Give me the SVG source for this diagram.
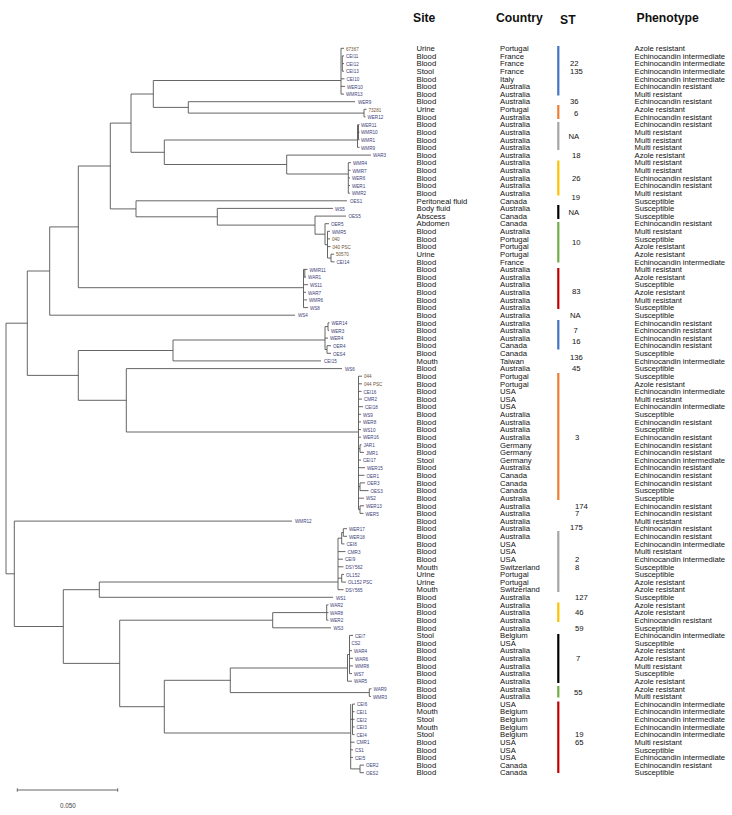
<svg xmlns="http://www.w3.org/2000/svg" width="732" height="815" viewBox="0 0 732 815">
<style>
.t{font-family:"Liberation Sans",Arial,sans-serif;font-size:7.7px;fill:#111}
.h{font-family:"Liberation Sans",Arial,sans-serif;font-size:12.2px;font-weight:bold;fill:#111}
.lf{font-family:"Liberation Sans",Arial,sans-serif;font-size:6.2px;fill:#3c3c78}
.ln{fill:#6e5434}
.br{fill:none;stroke:#555;stroke-width:0.9}
.sb{stroke-width:2.2}
.sc{font-family:"Liberation Sans",Arial,sans-serif;font-size:6.3px;fill:#444}
</style>
<rect width="732" height="815" fill="#fff"/>
<g id="headers">
<text class="h" x="413" y="21.5">Site</text>
<text class="h" x="496" y="21.5">Country</text>
<text class="h" x="560" y="24">ST</text>
<text class="h" x="636.5" y="21.5">Phenotype</text>
</g>
<g id="branches" class="br">
<path d="M6 323.2V573.8M6 323.2H27.3M6 573.8H14.3"/>
<path d="M27.3 271V375.4M27.3 271H49.7M27.3 375.4H78.3"/>
<path d="M49.7 226.9V315.2M49.7 226.9H78.3M49.7 315.2H295"/>
<path d="M78.3 166V287.7M78.3 166H110.3M78.3 287.7H303.5"/>
<path d="M110.3 123.1V208.9M110.3 123.1H131M110.3 208.9H136"/>
<path d="M131 94V152.3M131 94H153.3M131 152.3H164.3"/>
<path d="M153.3 80.5V107.4M153.3 80.5H341M153.3 107.4H188.3"/>
<path d="M188.3 101.7V113.1M188.3 101.7H355M188.3 113.1H364"/>
<path d="M364 109.3V116.9M364 109.3H366.5M364 116.9H365.5"/>
<path d="M341 48.3V94.1M341 48.3H344M341 78.8H344.5M341 86.4H345M341 94.1H344M342.3 55.9V71.2M342.3 55.9H344M342.3 63.6H344M342.3 71.2H344"/>
<path d="M164.3 140V164.5M164.3 140H357.5M164.3 164.5H286.7"/>
<path d="M357.5 124.6V147.4M358.5 124.6V139.8M358.5 124.6H359.5M358.5 132.2H359.5M358.5 139.8H359.5M357.5 147.4H359.5M357.5 132.2H358.5"/>
<path d="M286.7 155.1V174M286.7 155.1H371M286.7 174H348.3"/>
<path d="M348.3 162.7V193.2M348.3 162.7H351M348.3 170.3H350.5M348.3 177.9H350M348.3 185.6H350M348.3 193.2H350"/>
<path d="M136 200.8V216.8M136 200.8H347M136 216.8H217.3"/>
<path d="M217.3 208.4V225.1M217.3 208.4H333M217.3 225.1H315"/>
<path d="M315 216.1V234.2M315 216.1H346M315 234.2H325"/>
<path d="M325 223.7V244.7M325 223.7H329M325 244.7H327.5M327.5 231.3V258M327.5 231.3H330M327.5 238.9H330M327.5 246.6H330.5M327.5 258H331M331 254.2V261.8M331 254.2H334M331 261.8H334.5"/>
<path d="M303.5 269.4V307.6M303.5 269.4H307.5M303.5 277.1H306M303.5 284.7H308M303.5 292.3H306M303.5 299.9H307M303.5 307.6H308M304.8 269.4V277.1"/>
<path d="M78.3 350.5V400.3M78.3 350.5H173M78.3 400.3H126.3"/>
<path d="M173 340V360.9M173 340H325M173 360.9H321"/>
<path d="M325 326.6V349.5M325 326.6H328M328 322.8V330.4M328 322.8H329.5M328 330.4H329M325 338.1H328M325 349.5H327M327 345.7V353.3M327 345.7H331M327 353.3H331"/>
<path d="M126.3 368.6V432M126.3 368.6H342M126.3 432H358.5"/>
<path d="M358.5 376.2V509.6M358.5 376.2H362M358.5 383.8H362M358.5 391.4H361.5M358.5 399.1H362M358.5 406.7H363M358.5 414.3H361M358.5 421.9H361M358.5 429.6H361M358.5 437.2H361M358.5 448.6H360M360 444.8V452.4M360 444.8H361.5M360 452.4H364M358.5 460.1H361M358.5 467.7H365M358.5 475.3H364.5M358.5 486.7H360M360 482.9V490.6M360 482.9H365M360 490.6H368.5M358.5 498.2H364M358.5 509.6H360M360 505.8V513.4M360 505.8H364M360 513.4H363.5"/>
<path d="M14.3 521.1V626.5M14.3 521.1H292M14.3 626.5H63.3"/>
<path d="M63.3 589.7V663.4M63.3 589.7H99.3M63.3 663.4H119.7"/>
<path d="M99.3 582V597.3M99.3 582H338M99.3 597.3H333"/>
<path d="M338 538.2V589.7M338 538.2H341.7M341.7 532.5V543.9M341.7 532.5H343.3M343.3 528.7V536.3M343.3 528.7H347M343.3 536.3H347M341.7 543.9H344.5M338 551.6H345.5M338 559.2H343M338 566.8H343.5M338 578.2H341.7M341.7 574.4V582.1M341.7 574.4H344M341.7 582.1H346M338 589.7H343.5"/>
<path d="M119.7 620.2V706.7M119.7 620.2H272.7M119.7 706.7H164.3"/>
<path d="M272.7 612.6V627.8M272.7 612.6H326.7M272.7 627.8H331"/>
<path d="M326.7 604.9V620.2M326.7 604.9H328.5M326.7 612.6H328.5M326.7 620.2H328.5"/>
<path d="M164.3 680.3V733M164.3 680.3H230.3M164.3 733H350.7"/>
<path d="M230.3 668V692.6M230.3 668H347.5M230.3 692.6H369.3"/>
<path d="M347.5 654.5V681.2M349.5 635.4V673.6M347.5 654.5H349.5M349.5 635.4H353M349.5 643.1H350M349.5 650.7H352M349.5 658.3H353M349.5 665.9H353M349.5 673.6H352M347.5 681.2H352"/>
<path d="M369.3 688.8V696.4M369.3 688.8H371.5M369.3 696.4H371"/>
<path d="M350.7 704.1V768.9M352.5 704.1V734.6M350.7 719.3H352.5M352.5 704.1H355M352.5 711.7H354.5M352.5 719.3H354.5M352.5 726.9H354.5M352.5 734.6H354.5M350.7 742.2H354.5M350.7 749.8H353M350.7 757.4H353M350.7 768.9H360M360 765.1V772.7M360 765.1H364M360 772.7H364"/>
</g>
<g id="st-bars" class="sb">
<line x1="558.3" y1="46" x2="558.3" y2="95.5" stroke="#4472C4"/>
<line x1="558.3" y1="105" x2="558.3" y2="119" stroke="#ED7D31"/>
<line x1="558.3" y1="122" x2="558.3" y2="150" stroke="#A5A5A5"/>
<line x1="558.3" y1="160.5" x2="558.3" y2="195.5" stroke="#FFC000"/>
<line x1="558.3" y1="205" x2="558.3" y2="219" stroke="#000"/>
<line x1="558.3" y1="222" x2="558.3" y2="262.5" stroke="#70AD47"/>
<line x1="558.3" y1="268" x2="558.3" y2="309" stroke="#C00000"/>
<line x1="558.3" y1="320" x2="558.3" y2="349.5" stroke="#4472C4"/>
<line x1="558.3" y1="373" x2="558.3" y2="500" stroke="#ED7D31"/>
<line x1="558.3" y1="531" x2="558.3" y2="592" stroke="#A5A5A5"/>
<line x1="558.3" y1="602.5" x2="558.3" y2="622" stroke="#FFC000"/>
<line x1="558.3" y1="634" x2="558.3" y2="683" stroke="#000"/>
<line x1="558.3" y1="686" x2="558.3" y2="697.5" stroke="#70AD47"/>
<line x1="558.3" y1="701.5" x2="558.3" y2="773" stroke="#C00000"/>
</g>
<g id="st-labels" class="t">
<text x="570" y="66.3">22</text>
<text x="570" y="73.9">135</text>
<text x="570" y="104.4">36</text>
<text x="574" y="115.7">6</text>
<text x="568.5" y="138.7">NA</text>
<text x="572" y="157.8">18</text>
<text x="572" y="180.6">26</text>
<text x="571.5" y="200.2">19</text>
<text x="568.5" y="214.7">NA</text>
<text x="572" y="245.2">10</text>
<text x="572" y="293.7">83</text>
<text x="570" y="317.9">NA</text>
<text x="573.5" y="333.1">7</text>
<text x="572" y="344.2">16</text>
<text x="570" y="359.7">136</text>
<text x="572" y="371.2">45</text>
<text x="575" y="439.9">3</text>
<text x="575" y="508.5">174</text>
<text x="575" y="516.1">7</text>
<text x="570" y="529.7">175</text>
<text x="575" y="561.7">2</text>
<text x="575" y="569.7">8</text>
<text x="575" y="600">127</text>
<text x="575" y="615.2">46</text>
<text x="575" y="630.5">59</text>
<text x="576" y="661">7</text>
<text x="574" y="695.2">55</text>
<text x="575" y="737.2">19</text>
<text x="575" y="744.9">65</text>
</g>
<g id="r1"><text class="lf ln" transform="translate(346 50.5) scale(.74 1)">67367</text><text class="t" x="416.5" y="51">Urine</text><text class="t" x="500" y="51">Portugal</text><text class="t" x="634.5" y="51">Azole resistant</text></g>
<g id="r2"><text class="lf" transform="translate(346 58.1) scale(.74 1)">CEI11</text><text class="t" x="416.5" y="58.6">Blood</text><text class="t" x="500" y="58.6">France</text><text class="t" x="634.5" y="58.6">Echinocandin intermediate</text></g>
<g id="r3"><text class="lf" transform="translate(346 65.8) scale(.74 1)">CEI12</text><text class="t" x="416.5" y="66.3">Blood</text><text class="t" x="500" y="66.3">France</text><text class="t" x="634.5" y="66.3">Echinocandin intermediate</text></g>
<g id="r4"><text class="lf" transform="translate(346 73.4) scale(.74 1)">CEI13</text><text class="t" x="416.5" y="73.9">Stool</text><text class="t" x="500" y="73.9">France</text><text class="t" x="634.5" y="73.9">Echinocandin intermediate</text></g>
<g id="r5"><text class="lf" transform="translate(346.5 81) scale(.74 1)">CEI10</text><text class="t" x="416.5" y="81.5">Blood</text><text class="t" x="500" y="81.5">Italy</text><text class="t" x="634.5" y="81.5">Echinocandin intermediate</text></g>
<g id="r6"><text class="lf" transform="translate(347 88.6) scale(.74 1)">WER10</text><text class="t" x="416.5" y="89.1">Blood</text><text class="t" x="500" y="89.1">Australia</text><text class="t" x="634.5" y="89.1">Echinocandin resistant</text></g>
<g id="r7"><text class="lf" transform="translate(346 96.3) scale(.74 1)">WMR13</text><text class="t" x="416.5" y="96.8">Blood</text><text class="t" x="500" y="96.8">Australia</text><text class="t" x="634.5" y="96.8">Multi resistant</text></g>
<g id="r8"><text class="lf" transform="translate(358 103.9) scale(.74 1)">WER9</text><text class="t" x="416.5" y="104.4">Blood</text><text class="t" x="500" y="104.4">Australia</text><text class="t" x="634.5" y="104.4">Echinocandin resistant</text></g>
<g id="r9"><text class="lf ln" transform="translate(368.5 111.5) scale(.74 1)">73281</text><text class="t" x="416.5" y="112">Urine</text><text class="t" x="500" y="112">Portugal</text><text class="t" x="634.5" y="112">Azole resistant</text></g>
<g id="r10"><text class="lf" transform="translate(367.5 119.1) scale(.74 1)">WER12</text><text class="t" x="416.5" y="119.6">Blood</text><text class="t" x="500" y="119.6">Australia</text><text class="t" x="634.5" y="119.6">Echinocandin resistant</text></g>
<g id="r11"><text class="lf" transform="translate(361 126.8) scale(.74 1)">WER11</text><text class="t" x="416.5" y="127.3">Blood</text><text class="t" x="500" y="127.3">Australia</text><text class="t" x="634.5" y="127.3">Echinocandin resistant</text></g>
<g id="r12"><text class="lf" transform="translate(361 134.4) scale(.74 1)">WMR10</text><text class="t" x="416.5" y="134.9">Blood</text><text class="t" x="500" y="134.9">Australia</text><text class="t" x="634.5" y="134.9">Multi resistant</text></g>
<g id="r13"><text class="lf" transform="translate(361 142) scale(.74 1)">WMR1</text><text class="t" x="416.5" y="142.5">Blood</text><text class="t" x="500" y="142.5">Australia</text><text class="t" x="634.5" y="142.5">Multi resistant</text></g>
<g id="r14"><text class="lf" transform="translate(361 149.6) scale(.74 1)">WMR9</text><text class="t" x="416.5" y="150.1">Blood</text><text class="t" x="500" y="150.1">Australia</text><text class="t" x="634.5" y="150.1">Multi resistant</text></g>
<g id="r15"><text class="lf" transform="translate(373 157.3) scale(.74 1)">WAR3</text><text class="t" x="416.5" y="157.8">Blood</text><text class="t" x="500" y="157.8">Australia</text><text class="t" x="634.5" y="157.8">Azole resistant</text></g>
<g id="r16"><text class="lf" transform="translate(353 164.9) scale(.74 1)">WMR4</text><text class="t" x="416.5" y="165.4">Blood</text><text class="t" x="500" y="165.4">Australia</text><text class="t" x="634.5" y="165.4">Multi resistant</text></g>
<g id="r17"><text class="lf" transform="translate(352.5 172.5) scale(.74 1)">WMR7</text><text class="t" x="416.5" y="173">Blood</text><text class="t" x="500" y="173">Australia</text><text class="t" x="634.5" y="173">Multi resistant</text></g>
<g id="r18"><text class="lf" transform="translate(352 180.1) scale(.74 1)">WER6</text><text class="t" x="416.5" y="180.6">Blood</text><text class="t" x="500" y="180.6">Australia</text><text class="t" x="634.5" y="180.6">Echinocandin resistant</text></g>
<g id="r19"><text class="lf" transform="translate(352 187.8) scale(.74 1)">WER1</text><text class="t" x="416.5" y="188.3">Blood</text><text class="t" x="500" y="188.3">Australia</text><text class="t" x="634.5" y="188.3">Echinocandin resistant</text></g>
<g id="r20"><text class="lf" transform="translate(352 195.4) scale(.74 1)">WMR2</text><text class="t" x="416.5" y="195.9">Blood</text><text class="t" x="500" y="195.9">Australia</text><text class="t" x="634.5" y="195.9">Multi resistant</text></g>
<g id="r21"><text class="lf" transform="translate(350 203) scale(.74 1)">OES1</text><text class="t" x="416.5" y="203.5">Peritoneal fluid</text><text class="t" x="500" y="203.5">Canada</text><text class="t" x="634.5" y="203.5">Susceptible</text></g>
<g id="r22"><text class="lf" transform="translate(335 210.6) scale(.74 1)">WS5</text><text class="t" x="416.5" y="211.1">Body fluid</text><text class="t" x="500" y="211.1">Australia</text><text class="t" x="634.5" y="211.1">Susceptible</text></g>
<g id="r23"><text class="lf" transform="translate(348.5 218.3) scale(.74 1)">OES5</text><text class="t" x="416.5" y="218.8">Abscess</text><text class="t" x="500" y="218.8">Canada</text><text class="t" x="634.5" y="218.8">Susceptible</text></g>
<g id="r24"><text class="lf" transform="translate(331 225.9) scale(.74 1)">OER5</text><text class="t" x="416.5" y="226.4">Abdomen</text><text class="t" x="500" y="226.4">Canada</text><text class="t" x="634.5" y="226.4">Echinocandin resistant</text></g>
<g id="r25"><text class="lf" transform="translate(332 233.5) scale(.74 1)">WMR5</text><text class="t" x="416.5" y="234">Blood</text><text class="t" x="500" y="234">Australia</text><text class="t" x="634.5" y="234">Multi resistant</text></g>
<g id="r26"><text class="lf ln" transform="translate(332 241.1) scale(.74 1)">040</text><text class="t" x="416.5" y="241.6">Blood</text><text class="t" x="500" y="241.6">Portugal</text><text class="t" x="634.5" y="241.6">Susceptible</text></g>
<g id="r27"><text class="lf ln" transform="translate(332.5 248.8) scale(.74 1)">040 PSC</text><text class="t" x="416.5" y="249.3">Blood</text><text class="t" x="500" y="249.3">Portugal</text><text class="t" x="634.5" y="249.3">Azole resistant</text></g>
<g id="r28"><text class="lf ln" transform="translate(336 256.4) scale(.74 1)">50570</text><text class="t" x="416.5" y="256.9">Urine</text><text class="t" x="500" y="256.9">Portugal</text><text class="t" x="634.5" y="256.9">Azole resistant</text></g>
<g id="r29"><text class="lf" transform="translate(336.5 264) scale(.74 1)">CEI14</text><text class="t" x="416.5" y="264.5">Blood</text><text class="t" x="500" y="264.5">France</text><text class="t" x="634.5" y="264.5">Echinocandin intermediate</text></g>
<g id="r30"><text class="lf" transform="translate(309.5 271.6) scale(.74 1)">WMR11</text><text class="t" x="416.5" y="272.1">Blood</text><text class="t" x="500" y="272.1">Australia</text><text class="t" x="634.5" y="272.1">Multi resistant</text></g>
<g id="r31"><text class="lf" transform="translate(308 279.3) scale(.74 1)">WAR1</text><text class="t" x="416.5" y="279.8">Blood</text><text class="t" x="500" y="279.8">Australia</text><text class="t" x="634.5" y="279.8">Azole resistant</text></g>
<g id="r32"><text class="lf" transform="translate(310 286.9) scale(.74 1)">WS11</text><text class="t" x="416.5" y="287.4">Blood</text><text class="t" x="500" y="287.4">Australia</text><text class="t" x="634.5" y="287.4">Susceptible</text></g>
<g id="r33"><text class="lf" transform="translate(308 294.5) scale(.74 1)">WAR7</text><text class="t" x="416.5" y="295">Blood</text><text class="t" x="500" y="295">Australia</text><text class="t" x="634.5" y="295">Azole resistant</text></g>
<g id="r34"><text class="lf" transform="translate(309 302.1) scale(.74 1)">WMR6</text><text class="t" x="416.5" y="302.6">Blood</text><text class="t" x="500" y="302.6">Australia</text><text class="t" x="634.5" y="302.6">Multi resistant</text></g>
<g id="r35"><text class="lf" transform="translate(310 309.8) scale(.74 1)">WS8</text><text class="t" x="416.5" y="310.3">Blood</text><text class="t" x="500" y="310.3">Australia</text><text class="t" x="634.5" y="310.3">Susceptible</text></g>
<g id="r36"><text class="lf" transform="translate(298 317.4) scale(.74 1)">WS4</text><text class="t" x="416.5" y="317.9">Blood</text><text class="t" x="500" y="317.9">Australia</text><text class="t" x="634.5" y="317.9">Susceptible</text></g>
<g id="r37"><text class="lf" transform="translate(331.5 325) scale(.74 1)">WER14</text><text class="t" x="416.5" y="325.5">Blood</text><text class="t" x="500" y="325.5">Australia</text><text class="t" x="634.5" y="325.5">Echinocandin resistant</text></g>
<g id="r38"><text class="lf" transform="translate(331 332.6) scale(.74 1)">WER3</text><text class="t" x="416.5" y="333.1">Blood</text><text class="t" x="500" y="333.1">Australia</text><text class="t" x="634.5" y="333.1">Echinocandin resistant</text></g>
<g id="r39"><text class="lf" transform="translate(330 340.3) scale(.74 1)">WER4</text><text class="t" x="416.5" y="340.8">Blood</text><text class="t" x="500" y="340.8">Australia</text><text class="t" x="634.5" y="340.8">Echinocandin resistant</text></g>
<g id="r40"><text class="lf" transform="translate(333 347.9) scale(.74 1)">OER4</text><text class="t" x="416.5" y="348.4">Blood</text><text class="t" x="500" y="348.4">Canada</text><text class="t" x="634.5" y="348.4">Echinocandin resistant</text></g>
<g id="r41"><text class="lf" transform="translate(333 355.5) scale(.74 1)">OES4</text><text class="t" x="416.5" y="356">Blood</text><text class="t" x="500" y="356">Canada</text><text class="t" x="634.5" y="356">Susceptible</text></g>
<g id="r42"><text class="lf" transform="translate(324 363.1) scale(.74 1)">CEI15</text><text class="t" x="416.5" y="363.6">Mouth</text><text class="t" x="500" y="363.6">Taiwan</text><text class="t" x="634.5" y="363.6">Echinocandin intermediate</text></g>
<g id="r43"><text class="lf" transform="translate(345 370.8) scale(.74 1)">WS6</text><text class="t" x="416.5" y="371.3">Blood</text><text class="t" x="500" y="371.3">Australia</text><text class="t" x="634.5" y="371.3">Susceptible</text></g>
<g id="r44"><text class="lf ln" transform="translate(364 378.4) scale(.74 1)">044</text><text class="t" x="416.5" y="378.9">Blood</text><text class="t" x="500" y="378.9">Portugal</text><text class="t" x="634.5" y="378.9">Susceptible</text></g>
<g id="r45"><text class="lf ln" transform="translate(364 386) scale(.74 1)">044 PSC</text><text class="t" x="416.5" y="386.5">Blood</text><text class="t" x="500" y="386.5">Portugal</text><text class="t" x="634.5" y="386.5">Azole resistant</text></g>
<g id="r46"><text class="lf" transform="translate(363.5 393.6) scale(.74 1)">CEI16</text><text class="t" x="416.5" y="394.1">Blood</text><text class="t" x="500" y="394.1">USA</text><text class="t" x="634.5" y="394.1">Echinocandin intermediate</text></g>
<g id="r47"><text class="lf" transform="translate(364 401.3) scale(.74 1)">CMR2</text><text class="t" x="416.5" y="401.8">Blood</text><text class="t" x="500" y="401.8">USA</text><text class="t" x="634.5" y="401.8">Multi resistant</text></g>
<g id="r48"><text class="lf" transform="translate(365 408.9) scale(.74 1)">CEI18</text><text class="t" x="416.5" y="409.4">Blood</text><text class="t" x="500" y="409.4">USA</text><text class="t" x="634.5" y="409.4">Echinocandin intermediate</text></g>
<g id="r49"><text class="lf" transform="translate(363 416.5) scale(.74 1)">WS9</text><text class="t" x="416.5" y="417">Blood</text><text class="t" x="500" y="417">Australia</text><text class="t" x="634.5" y="417">Susceptible</text></g>
<g id="r50"><text class="lf" transform="translate(363 424.1) scale(.74 1)">WER8</text><text class="t" x="416.5" y="424.6">Blood</text><text class="t" x="500" y="424.6">Australia</text><text class="t" x="634.5" y="424.6">Echinocandin resistant</text></g>
<g id="r51"><text class="lf" transform="translate(363 431.8) scale(.74 1)">WS10</text><text class="t" x="416.5" y="432.3">Blood</text><text class="t" x="500" y="432.3">Australia</text><text class="t" x="634.5" y="432.3">Susceptible</text></g>
<g id="r52"><text class="lf" transform="translate(363 439.4) scale(.74 1)">WER16</text><text class="t" x="416.5" y="439.9">Blood</text><text class="t" x="500" y="439.9">Australia</text><text class="t" x="634.5" y="439.9">Echinocandin resistant</text></g>
<g id="r53"><text class="lf" transform="translate(363.5 447) scale(.74 1)">JAR1</text><text class="t" x="416.5" y="447.5">Blood</text><text class="t" x="500" y="447.5">Germany</text><text class="t" x="634.5" y="447.5">Echinocandin resistant</text></g>
<g id="r54"><text class="lf" transform="translate(366 454.6) scale(.74 1)">JMR1</text><text class="t" x="416.5" y="455.1">Blood</text><text class="t" x="500" y="455.1">Germany</text><text class="t" x="634.5" y="455.1">Echinocandin resistant</text></g>
<g id="r55"><text class="lf" transform="translate(363 462.3) scale(.74 1)">CEI17</text><text class="t" x="416.5" y="462.8">Stool</text><text class="t" x="500" y="462.8">Germany</text><text class="t" x="634.5" y="462.8">Echinocandin intermediate</text></g>
<g id="r56"><text class="lf" transform="translate(367 469.9) scale(.74 1)">WER15</text><text class="t" x="416.5" y="470.4">Blood</text><text class="t" x="500" y="470.4">Australia</text><text class="t" x="634.5" y="470.4">Echinocandin resistant</text></g>
<g id="r57"><text class="lf" transform="translate(366.5 477.5) scale(.74 1)">OER1</text><text class="t" x="416.5" y="478">Blood</text><text class="t" x="500" y="478">Canada</text><text class="t" x="634.5" y="478">Echinocandin resistant</text></g>
<g id="r58"><text class="lf" transform="translate(367 485.1) scale(.74 1)">OER3</text><text class="t" x="416.5" y="485.6">Blood</text><text class="t" x="500" y="485.6">Canada</text><text class="t" x="634.5" y="485.6">Echinocandin resistant</text></g>
<g id="r59"><text class="lf" transform="translate(370.5 492.8) scale(.74 1)">OES3</text><text class="t" x="416.5" y="493.3">Blood</text><text class="t" x="500" y="493.3">Canada</text><text class="t" x="634.5" y="493.3">Susceptible</text></g>
<g id="r60"><text class="lf" transform="translate(366 500.4) scale(.74 1)">WS2</text><text class="t" x="416.5" y="500.9">Blood</text><text class="t" x="500" y="500.9">Australia</text><text class="t" x="634.5" y="500.9">Susceptible</text></g>
<g id="r61"><text class="lf" transform="translate(366 508) scale(.74 1)">WER13</text><text class="t" x="416.5" y="508.5">Blood</text><text class="t" x="500" y="508.5">Australia</text><text class="t" x="634.5" y="508.5">Echinocandin resistant</text></g>
<g id="r62"><text class="lf" transform="translate(365.5 515.6) scale(.74 1)">WER5</text><text class="t" x="416.5" y="516.1">Blood</text><text class="t" x="500" y="516.1">Australia</text><text class="t" x="634.5" y="516.1">Echinocandin resistant</text></g>
<g id="r63"><text class="lf" transform="translate(295 523.3) scale(.74 1)">WMR12</text><text class="t" x="416.5" y="523.8">Blood</text><text class="t" x="500" y="523.8">Australia</text><text class="t" x="634.5" y="523.8">Multi resistant</text></g>
<g id="r64"><text class="lf" transform="translate(349 530.9) scale(.74 1)">WER17</text><text class="t" x="416.5" y="531.4">Blood</text><text class="t" x="500" y="531.4">Australia</text><text class="t" x="634.5" y="531.4">Echinocandin resistant</text></g>
<g id="r65"><text class="lf" transform="translate(349 538.5) scale(.74 1)">WER18</text><text class="t" x="416.5" y="539">Blood</text><text class="t" x="500" y="539">Australia</text><text class="t" x="634.5" y="539">Echinocandin resistant</text></g>
<g id="r66"><text class="lf" transform="translate(346.5 546.1) scale(.74 1)">CEI8</text><text class="t" x="416.5" y="546.6">Blood</text><text class="t" x="500" y="546.6">USA</text><text class="t" x="634.5" y="546.6">Echinocandin intermediate</text></g>
<g id="r67"><text class="lf" transform="translate(347.5 553.8) scale(.74 1)">CMR3</text><text class="t" x="416.5" y="554.3">Blood</text><text class="t" x="500" y="554.3">USA</text><text class="t" x="634.5" y="554.3">Multi resistant</text></g>
<g id="r68"><text class="lf" transform="translate(345 561.4) scale(.74 1)">CEI9</text><text class="t" x="416.5" y="561.9">Blood</text><text class="t" x="500" y="561.9">USA</text><text class="t" x="634.5" y="561.9">Echinocandin intermediate</text></g>
<g id="r69"><text class="lf" transform="translate(345.5 569) scale(.74 1)">DSY562</text><text class="t" x="416.5" y="569.5">Mouth</text><text class="t" x="500" y="569.5">Switzerland</text><text class="t" x="634.5" y="569.5">Susceptible</text></g>
<g id="r70"><text class="lf" transform="translate(346 576.6) scale(.74 1)">OL152</text><text class="t" x="416.5" y="577.1">Urine</text><text class="t" x="500" y="577.1">Portugal</text><text class="t" x="634.5" y="577.1">Susceptible</text></g>
<g id="r71"><text class="lf" transform="translate(348 584.3) scale(.74 1)">OL152 PSC</text><text class="t" x="416.5" y="584.8">Urine</text><text class="t" x="500" y="584.8">Portugal</text><text class="t" x="634.5" y="584.8">Azole resistant</text></g>
<g id="r72"><text class="lf" transform="translate(345.5 591.9) scale(.74 1)">DSY565</text><text class="t" x="416.5" y="592.4">Mouth</text><text class="t" x="500" y="592.4">Switzerland</text><text class="t" x="634.5" y="592.4">Azole resistant</text></g>
<g id="r73"><text class="lf" transform="translate(336 599.5) scale(.74 1)">WS1</text><text class="t" x="416.5" y="600">Blood</text><text class="t" x="500" y="600">Australia</text><text class="t" x="634.5" y="600">Susceptible</text></g>
<g id="r74"><text class="lf" transform="translate(330 607.1) scale(.74 1)">WAR2</text><text class="t" x="416.5" y="607.6">Blood</text><text class="t" x="500" y="607.6">Australia</text><text class="t" x="634.5" y="607.6">Azole resistant</text></g>
<g id="r75"><text class="lf" transform="translate(330 614.8) scale(.74 1)">WAR8</text><text class="t" x="416.5" y="615.3">Blood</text><text class="t" x="500" y="615.3">Australia</text><text class="t" x="634.5" y="615.3">Azole resistant</text></g>
<g id="r76"><text class="lf" transform="translate(330 622.4) scale(.74 1)">WER2</text><text class="t" x="416.5" y="622.9">Blood</text><text class="t" x="500" y="622.9">Australia</text><text class="t" x="634.5" y="622.9">Echinocandin resistant</text></g>
<g id="r77"><text class="lf" transform="translate(333.5 630) scale(.74 1)">WS3</text><text class="t" x="416.5" y="630.5">Blood</text><text class="t" x="500" y="630.5">Australia</text><text class="t" x="634.5" y="630.5">Susceptible</text></g>
<g id="r78"><text class="lf" transform="translate(355 637.6) scale(.74 1)">CEI7</text><text class="t" x="416.5" y="638.1">Stool</text><text class="t" x="500" y="638.1">Belgium</text><text class="t" x="634.5" y="638.1">Echinocandin intermediate</text></g>
<g id="r79"><text class="lf" transform="translate(351.5 645.3) scale(.74 1)">CS2</text><text class="t" x="416.5" y="645.8">Blood</text><text class="t" x="500" y="645.8">USA</text><text class="t" x="634.5" y="645.8">Susceptible</text></g>
<g id="r80"><text class="lf" transform="translate(354 652.9) scale(.74 1)">WAR4</text><text class="t" x="416.5" y="653.4">Blood</text><text class="t" x="500" y="653.4">Australia</text><text class="t" x="634.5" y="653.4">Azole resistant</text></g>
<g id="r81"><text class="lf" transform="translate(355 660.5) scale(.74 1)">WAR6</text><text class="t" x="416.5" y="661">Blood</text><text class="t" x="500" y="661">Australia</text><text class="t" x="634.5" y="661">Azole resistant</text></g>
<g id="r82"><text class="lf" transform="translate(355 668.1) scale(.74 1)">WMR8</text><text class="t" x="416.5" y="668.6">Blood</text><text class="t" x="500" y="668.6">Australia</text><text class="t" x="634.5" y="668.6">Multi resistant</text></g>
<g id="r83"><text class="lf" transform="translate(354 675.8) scale(.74 1)">WS7</text><text class="t" x="416.5" y="676.3">Blood</text><text class="t" x="500" y="676.3">Australia</text><text class="t" x="634.5" y="676.3">Susceptible</text></g>
<g id="r84"><text class="lf" transform="translate(354 683.4) scale(.74 1)">WAR5</text><text class="t" x="416.5" y="683.9">Blood</text><text class="t" x="500" y="683.9">Australia</text><text class="t" x="634.5" y="683.9">Azole resistant</text></g>
<g id="r85"><text class="lf" transform="translate(373.5 691) scale(.74 1)">WAR9</text><text class="t" x="416.5" y="691.5">Blood</text><text class="t" x="500" y="691.5">Australia</text><text class="t" x="634.5" y="691.5">Azole resistant</text></g>
<g id="r86"><text class="lf" transform="translate(373 698.6) scale(.74 1)">WMR3</text><text class="t" x="416.5" y="699.1">Blood</text><text class="t" x="500" y="699.1">Australia</text><text class="t" x="634.5" y="699.1">Multi resistant</text></g>
<g id="r87"><text class="lf" transform="translate(357 706.3) scale(.74 1)">CEI6</text><text class="t" x="416.5" y="706.8">Blood</text><text class="t" x="500" y="706.8">USA</text><text class="t" x="634.5" y="706.8">Echinocandin intermediate</text></g>
<g id="r88"><text class="lf" transform="translate(356.5 713.9) scale(.74 1)">CEI1</text><text class="t" x="416.5" y="714.4">Mouth</text><text class="t" x="500" y="714.4">Belgium</text><text class="t" x="634.5" y="714.4">Echinocandin intermediate</text></g>
<g id="r89"><text class="lf" transform="translate(356.5 721.5) scale(.74 1)">CEI2</text><text class="t" x="416.5" y="722">Stool</text><text class="t" x="500" y="722">Belgium</text><text class="t" x="634.5" y="722">Echinocandin intermediate</text></g>
<g id="r90"><text class="lf" transform="translate(356.5 729.1) scale(.74 1)">CEI3</text><text class="t" x="416.5" y="729.6">Mouth</text><text class="t" x="500" y="729.6">Belgium</text><text class="t" x="634.5" y="729.6">Echinocandin intermediate</text></g>
<g id="r91"><text class="lf" transform="translate(356.5 736.8) scale(.74 1)">CEI4</text><text class="t" x="416.5" y="737.3">Stool</text><text class="t" x="500" y="737.3">Belgium</text><text class="t" x="634.5" y="737.3">Echinocandin intermediate</text></g>
<g id="r92"><text class="lf" transform="translate(356.5 744.4) scale(.74 1)">CMR1</text><text class="t" x="416.5" y="744.9">Blood</text><text class="t" x="500" y="744.9">USA</text><text class="t" x="634.5" y="744.9">Multi resistant</text></g>
<g id="r93"><text class="lf" transform="translate(355 752) scale(.74 1)">CS1</text><text class="t" x="416.5" y="752.5">Blood</text><text class="t" x="500" y="752.5">USA</text><text class="t" x="634.5" y="752.5">Susceptible</text></g>
<g id="r94"><text class="lf" transform="translate(355 759.6) scale(.74 1)">CEI5</text><text class="t" x="416.5" y="760.1">Blood</text><text class="t" x="500" y="760.1">USA</text><text class="t" x="634.5" y="760.1">Echinocandin intermediate</text></g>
<g id="r95"><text class="lf" transform="translate(366 767.3) scale(.74 1)">OER2</text><text class="t" x="416.5" y="767.8">Blood</text><text class="t" x="500" y="767.8">Canada</text><text class="t" x="634.5" y="767.8">Echinocandin resistant</text></g>
<g id="r96"><text class="lf" transform="translate(366 774.9) scale(.74 1)">OES2</text><text class="t" x="416.5" y="775.4">Blood</text><text class="t" x="500" y="775.4">Canada</text><text class="t" x="634.5" y="775.4">Susceptible</text></g>
<g id="scale-bar">
<path class="br" d="M17.3 790H117.7M17.3 788.3V791.7M117.7 788.3V791.7"/>
<text class="sc" x="68" y="808" text-anchor="middle">0.050</text>
</g>
</svg>
